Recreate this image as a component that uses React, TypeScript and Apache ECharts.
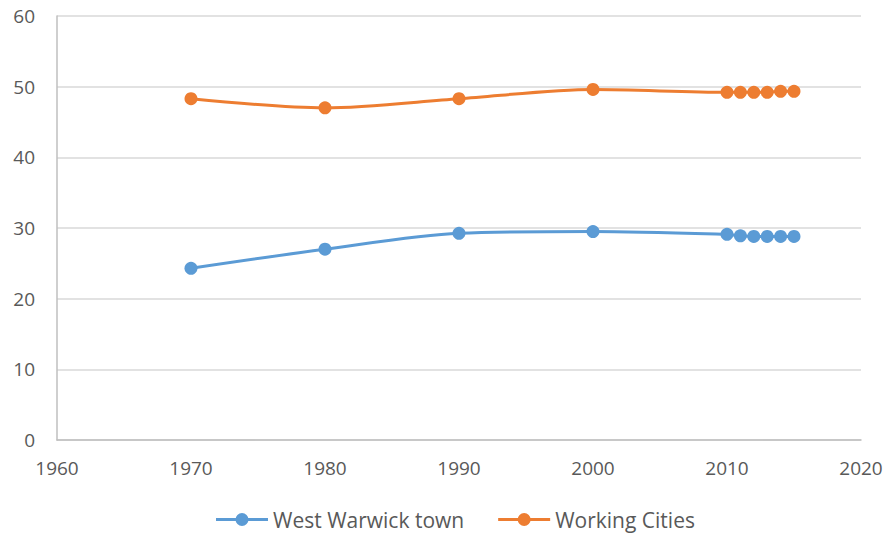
import React, { useEffect, useRef } from "react";
import * as echarts from "echarts";

const years = [1970, 1980, 1990, 2000, 2010, 2011, 2012, 2013, 2014, 2015];
const westWarwick = [24.3, 27.0, 29.25, 29.5, 29.1, 28.9, 28.8, 28.8, 28.8, 28.8];
const workingCities = [48.3, 47.0, 48.3, 49.6, 49.2, 49.2, 49.2, 49.2, 49.35, 49.35];
const seriesNames = ["West Warwick town", "Working Cities"];
const colors = ["#5b9bd5", "#ed7d31"];

const legendIcon =
  "path://M0,5.5 H52 V8.5 H0 Z M19.5,7 A6.5,6.5 0 1,1 32.5,7 A6.5,6.5 0 1,1 19.5,7 Z";

export default function App() {
  const ref = useRef<HTMLDivElement>(null);
  useEffect(() => {
    if (!ref.current) return;
    const chart = echarts.init(ref.current, null, { renderer: "svg" });
    const font = "'Open Sans', 'Liberation Sans', sans-serif";
    const mk = (name: string, vals: number[], color: string) => ({
      name,
      type: "line",
      smooth: 0.3,
      data: years.map((y, i) => [y, vals[i]]),
      symbol: "circle",
      symbolSize: 13,
      lineStyle: { width: 3, color },
      itemStyle: { color },
    });
    chart.setOption({
      animation: false,
      backgroundColor: "#ffffff",
      textStyle: { fontFamily: font },
      grid: { left: 57, right: 27, top: 16, bottom: 94 },
      legend: {
        top: 509,
        left: 216,
        padding: 0,
        itemWidth: 52,
        itemHeight: 14,
        itemGap: 34,
        icon: legendIcon,
        textStyle: { fontSize: 21, color: "#595959", fontFamily: font },
        data: seriesNames,
      },
      xAxis: {
        type: "value",
        min: 1960,
        max: 2020,
        interval: 10,
        axisLine: { show: true, lineStyle: { color: "#bfbfbf", width: 1.5 } },
        axisTick: { show: false },
        splitLine: { show: false },
        axisLabel: {
          fontSize: 19,
          color: "#595959",
          margin: 18,
          fontFamily: font,
          formatter: (v: number) => String(v),
        },
      },
      yAxis: {
        type: "value",
        min: 0,
        max: 60,
        interval: 10,
        axisLine: { show: true, lineStyle: { color: "#bfbfbf", width: 1.5 } },
        axisTick: { show: false },
        splitLine: { show: true, lineStyle: { color: "#d9d9d9", width: 1.5 } },
        axisLabel: { fontSize: 19, color: "#595959", margin: 22, fontFamily: font },
      },
      series: [
        mk(seriesNames[0], westWarwick, colors[0]),
        mk(seriesNames[1], workingCities, colors[1]),
      ],
    });
    return () => chart.dispose();
  }, []);
  return <div ref={ref} style={{ width: 888, height: 534, position: "absolute", left: 0, top: 0 }} />;
}
